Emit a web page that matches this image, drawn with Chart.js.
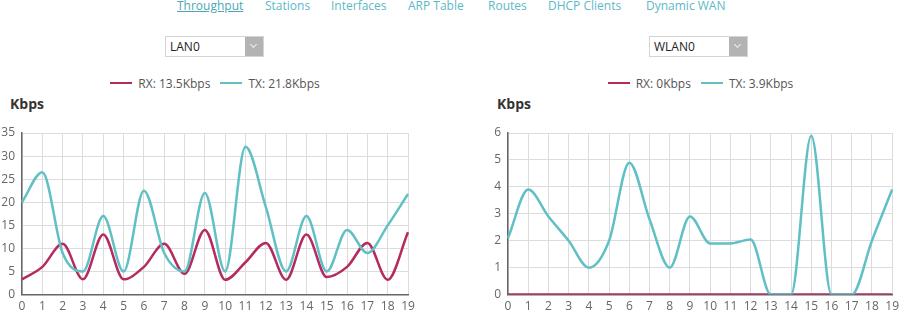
<!DOCTYPE html>
<html>
<head>
<meta charset="utf-8">
<script src="https://cdn.jsdelivr.net/npm/chart.js@4.4.0/dist/chart.umd.min.js"></script>
<style>
  html, body { margin: 0; padding: 0; background: #fff; }
  body { width: 902px; height: 313px; position: relative; overflow: hidden; font-family: "Open Sans", "Noto Sans", sans-serif; }
  .nav { position: absolute; top: -3px; left: 0; width: 902px; font-size: 12px; color: #5db8c6; }
  .nav span { position: absolute; white-space: nowrap; }
  .nav .cur { color: #4aa7b8; text-decoration: underline; }
  .sel { position: absolute; top: 36px; width: 99px; height: 21px; border: 1px solid #d4d4d4; box-sizing: border-box; font-size: 12px; color: #222; line-height: 19px; padding-left: 4px; }
  .sel .btn { position: absolute; right: 0; top: 0; width: 18px; height: 19px; background: #b3b3b3; }
  .sel .btn::after { content: ""; position: absolute; left: 6px; top: 5px; width: 4px; height: 4px; border-right: 1.5px solid #eee; border-bottom: 1.5px solid #eee; transform: rotate(45deg); }
  .legend { position: absolute; top: 75px; height: 16px; display: flex; justify-content: center; align-items: center; font-size: 12px; color: #555; }
  .legend .item { display: flex; align-items: center; margin: 0 5px; }
  .legend .sw { width: 22px; height: 2.5px; margin-right: 6px; }
  .unit { position: absolute; top: 94px; font-size: 14px; font-weight: bold; color: #333; }
  .wrap { position: absolute; top: 115px; width: 451px; height: 204px; }
</style>
</head>
<body>
<div class="nav" id="nav"></div>

<div class="sel" style="left:165px">LAN0<div class="btn"></div></div>
<div class="sel" style="left:649px">WLAN0<div class="btn"></div></div>

<div class="legend" id="legLan" style="left:22px;width:386px"></div>
<div class="legend" id="legWlan" style="left:508px;width:385px"></div>

<div class="unit" style="left:10px">Kbps</div>
<div class="unit" style="left:497px">Kbps</div>

<div class="wrap" style="left:0"><canvas id="lan"></canvas></div>
<div class="wrap" style="left:451px;width:453px"><canvas id="wlan"></canvas></div>

<script>
// nav tabs
const tabs = ['Throughput', 'Stations', 'Interfaces', 'ARP Table', 'Routes', 'DHCP Clients', 'Dynamic WAN'];
const tabX = [177, 265, 331, 408, 488, 548, 646];

// x axis: sample index
const samples = ['0','1','2','3','4','5','6','7','8','9','10','11','12','13','14','15','16','17','18','19'];

// LAN0 throughput, Kbps
const lanRx = [3.3, 6, 11, 3.3, 13, 3.3, 6, 11, 4.5, 14, 3.2, 7, 11.2, 3.2, 13, 3.8, 6, 11.2, 3.2, 13.5];
const lanTx = [20, 26.5, 9, 5, 17, 5, 22.5, 9, 5, 22, 5, 32, 19, 5, 17, 5, 14, 9, 15, 21.8];

// WLAN0 throughput, Kbps
const wlanRx = [0, 0, 0, 0, 0, 0, 0, 0, 0, 0, 0, 0, 0, 0, 0, 0, 0, 0, 0, 0];
const wlanTx = [2.1, 3.9, 2.9, 2, 1, 2, 4.9, 2.8, 1, 2.9, 1.9, 1.9, 2.05, 0, 0, 5.9, 0, 0, 2, 3.9];

// y axis ranges
const lanMax = 35, lanStep = 5;
const wlanMax = 6, wlanStep = 1;

const RX_COLOR = '#b52a5f';
const TX_COLOR = '#60c0c5';

const nav = document.getElementById('nav');
tabs.forEach((t, i) => {
  const s = document.createElement('span');
  s.textContent = t;
  s.style.left = tabX[i] + 'px';
  if (i === 0) s.className = 'cur';
  nav.appendChild(s);
});

function fillLegend(el, rx, tx) {
  const items = [['RX', rx, RX_COLOR], ['TX', tx, TX_COLOR]];
  items.forEach(([name, arr, color]) => {
    const it = document.createElement('div');
    it.className = 'item';
    const sw = document.createElement('div');
    sw.className = 'sw';
    sw.style.background = color;
    const txt = document.createElement('span');
    txt.textContent = name + ': ' + arr[arr.length - 1] + 'Kbps';
    it.appendChild(sw); it.appendChild(txt);
    el.appendChild(it);
  });
}
fillLegend(document.getElementById('legLan'), lanRx, lanTx);
fillLegend(document.getElementById('legWlan'), wlanRx, wlanTx);

function mount(canvasId, rx, tx, max, step, axisWidth, padRight) {
  const ds = (label, data, color) => ({
    label, data,
    borderColor: color, backgroundColor: color,
    borderWidth: 2.5, pointRadius: 0, fill: false,
    cubicInterpolationMode: 'monotone'
  });
  return new Chart(document.getElementById(canvasId), {
    type: 'line',
    // TX first so RX draws on top
    data: { labels: samples, datasets: [ds('TX', tx, TX_COLOR), ds('RX', rx, RX_COLOR)] },
    options: {
      responsive: true,
      maintainAspectRatio: false,
      animation: false,
      layout: { padding: { top: 18, right: padRight, bottom: 0, left: 0 } },
      plugins: { legend: { display: false }, tooltip: { enabled: false } },
      scales: {
        x: {
          grid: { color: '#dcdcdc', drawTicks: false },
          border: { color: '#666', width: 1.5 },
          ticks: { color: '#666', padding: 5, maxRotation: 0, autoSkip: false, font: { size: 12, family: '"Open Sans", sans-serif' } }
        },
        y: {
          min: 0, max: max,
          afterFit: (s) => { s.width = axisWidth; },
          grid: { color: '#dcdcdc', drawTicks: false },
          border: { color: '#666', width: 1.5 },
          ticks: { stepSize: step, color: '#666', padding: 7, font: { size: 12, family: '"Open Sans", sans-serif' } }
        }
      }
    }
  });
}

mount('lan', lanRx, lanTx, lanMax, lanStep, 22, 43);
mount('wlan', wlanRx, wlanTx, wlanMax, wlanStep, 57, 3);
</script>
</body>
</html>
